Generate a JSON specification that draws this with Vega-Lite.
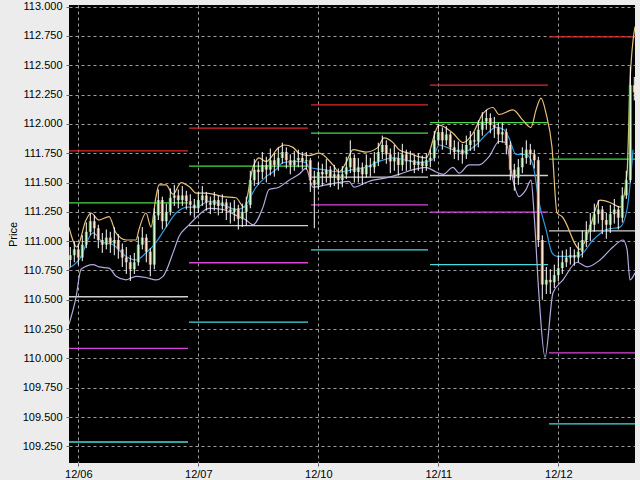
{
  "$schema": "https://vega.github.io/schema/vega-lite/v6.json",
  "width": 566,
  "height": 458,
  "autosize": {"type": "none"},
  "padding": {"left": 69, "top": 5, "right": 5, "bottom": 17},
  "background": "#ececec",
  "config": {
    "view": {"fill": "#000000", "stroke": null},
    "font": "Liberation Sans",
    "axis": {"labelFont": "Liberation Sans", "labelFontSize": 11, "labelColor": "#000000", "labelOverlap": false, "titleFont": "Liberation Sans", "titleFontSize": 11, "titleFontWeight": "normal", "titleColor": "#000000", "gridColor": "#bbbbbb", "gridDash": [3, 3], "gridWidth": 1, "gridOpacity": 0.85, "domain": false, "tickColor": "#666666", "tickSize": 3}
  },
  "encoding": {
    "x": {"field": "i", "type": "quantitative", "title": null, "scale": {"domain": [-2.325, 139.175], "nice": false, "zero": false},
          "axis": {"values": [0, 30, 60, 90, 120], "labelExpr": "datum.value == 0 ? '12/06' : datum.value == 30 ? '12/07' : datum.value == 60 ? '12/10' : datum.value == 90 ? '12/11' : '12/12'", "labelPadding": 2, "tickSize": 3, "labelFlush": false, "labelOverlap": false}},
    "y": {"field": "v", "type": "quantitative", "title": "Price", "scale": {"domain": [109.108, 113.014], "nice": false, "zero": false},
          "axis": {"values": [109.25, 109.5, 109.75, 110, 110.25, 110.5, 110.75, 111, 111.25, 111.5, 111.75, 112, 112.25, 112.5, 112.75, 113], "format": ".3f", "labelPadding": 4, "tickSize": 3, "titlePadding": 4, "labelFlush": false, "labelOverlap": false, "labelBound": false}}
  },
  "datasets": {
    "bars": [
      {"i":-2,"v":110.84,"h":110.95,"l":110.78,"c":110.88},
      {"i":-1,"v":110.88,"h":111.00,"l":110.82,"c":110.93},
      {"i":0,"v":110.93,"h":110.98,"l":110.80,"c":110.86},
      {"i":1,"v":110.86,"h":111.05,"l":110.83,"c":110.97},
      {"i":2,"v":110.97,"h":111.16,"l":110.94,"c":111.08},
      {"i":3,"v":111.08,"h":111.24,"l":111.05,"c":111.17},
      {"i":4,"v":111.17,"h":111.22,"l":111.02,"c":111.11},
      {"i":5,"v":111.11,"h":111.14,"l":110.94,"c":111.01},
      {"i":6,"v":111.01,"h":111.07,"l":110.90,"c":110.97},
      {"i":7,"v":110.97,"h":111.10,"l":110.93,"c":111.03},
      {"i":8,"v":111.03,"h":111.08,"l":110.90,"c":110.98},
      {"i":9,"v":110.98,"h":111.12,"l":110.88,"c":111.01},
      {"i":10,"v":111.01,"h":111.06,"l":110.85,"c":110.93},
      {"i":11,"v":110.93,"h":110.98,"l":110.78,"c":110.86},
      {"i":12,"v":110.86,"h":110.95,"l":110.72,"c":110.82},
      {"i":13,"v":110.82,"h":110.88,"l":110.66,"c":110.76},
      {"i":14,"v":110.76,"h":110.90,"l":110.72,"c":110.82},
      {"i":15,"v":110.82,"h":111.04,"l":110.79,"c":110.97},
      {"i":16,"v":110.97,"h":111.12,"l":110.93,"c":111.03},
      {"i":17,"v":111.03,"h":111.06,"l":110.82,"c":110.91},
      {"i":18,"v":110.91,"h":110.94,"l":110.70,"c":110.80},
      {"i":19,"v":110.80,"h":111.28,"l":110.76,"c":111.22},
      {"i":20,"v":111.22,"h":111.44,"l":111.18,"c":111.35},
      {"i":21,"v":111.35,"h":111.38,"l":111.10,"c":111.17},
      {"i":22,"v":111.17,"h":111.32,"l":111.12,"c":111.25},
      {"i":23,"v":111.25,"h":111.45,"l":111.22,"c":111.37},
      {"i":24,"v":111.37,"h":111.48,"l":111.30,"c":111.39},
      {"i":25,"v":111.39,"h":111.44,"l":111.28,"c":111.35},
      {"i":26,"v":111.35,"h":111.47,"l":111.30,"c":111.39},
      {"i":27,"v":111.39,"h":111.43,"l":111.27,"c":111.34},
      {"i":28,"v":111.34,"h":111.40,"l":111.22,"c":111.31},
      {"i":29,"v":111.31,"h":111.36,"l":111.20,"c":111.28},
      {"i":30,"v":111.28,"h":111.42,"l":111.24,"c":111.35},
      {"i":31,"v":111.35,"h":111.47,"l":111.30,"c":111.39},
      {"i":32,"v":111.39,"h":111.42,"l":111.26,"c":111.33},
      {"i":33,"v":111.33,"h":111.38,"l":111.23,"c":111.31},
      {"i":34,"v":111.31,"h":111.42,"l":111.26,"c":111.35},
      {"i":35,"v":111.35,"h":111.39,"l":111.22,"c":111.30},
      {"i":36,"v":111.30,"h":111.40,"l":111.24,"c":111.33},
      {"i":37,"v":111.33,"h":111.36,"l":111.18,"c":111.27},
      {"i":38,"v":111.27,"h":111.33,"l":111.15,"c":111.25},
      {"i":39,"v":111.25,"h":111.35,"l":111.17,"c":111.28},
      {"i":40,"v":111.28,"h":111.31,"l":111.10,"c":111.19},
      {"i":41,"v":111.19,"h":111.32,"l":111.12,"c":111.25},
      {"i":42,"v":111.25,"h":111.38,"l":111.13,"c":111.31},
      {"i":43,"v":111.31,"h":111.60,"l":111.28,"c":111.52},
      {"i":44,"v":111.52,"h":111.70,"l":111.47,"c":111.61},
      {"i":45,"v":111.61,"h":111.68,"l":111.48,"c":111.59},
      {"i":46,"v":111.59,"h":111.76,"l":111.53,"c":111.65},
      {"i":47,"v":111.65,"h":111.72,"l":111.50,"c":111.61},
      {"i":48,"v":111.61,"h":111.79,"l":111.56,"c":111.69},
      {"i":49,"v":111.69,"h":111.75,"l":111.55,"c":111.65},
      {"i":50,"v":111.65,"h":111.80,"l":111.60,"c":111.71},
      {"i":51,"v":111.71,"h":111.84,"l":111.66,"c":111.76},
      {"i":52,"v":111.76,"h":111.80,"l":111.62,"c":111.69},
      {"i":53,"v":111.69,"h":111.74,"l":111.57,"c":111.65},
      {"i":54,"v":111.65,"h":111.77,"l":111.60,"c":111.69},
      {"i":55,"v":111.69,"h":111.78,"l":111.63,"c":111.71},
      {"i":56,"v":111.71,"h":111.76,"l":111.61,"c":111.68},
      {"i":57,"v":111.68,"h":111.76,"l":111.61,"c":111.69},
      {"i":58,"v":111.69,"h":111.71,"l":111.42,"c":111.52},
      {"i":59,"v":111.52,"h":111.60,"l":111.11,"c":111.48},
      {"i":60,"v":111.48,"h":111.67,"l":111.44,"c":111.59},
      {"i":61,"v":111.59,"h":111.66,"l":111.47,"c":111.57},
      {"i":62,"v":111.57,"h":111.70,"l":111.50,"c":111.61},
      {"i":63,"v":111.61,"h":111.64,"l":111.46,"c":111.54},
      {"i":64,"v":111.54,"h":111.65,"l":111.47,"c":111.57},
      {"i":65,"v":111.57,"h":111.62,"l":111.44,"c":111.52},
      {"i":66,"v":111.52,"h":111.64,"l":111.46,"c":111.57},
      {"i":67,"v":111.57,"h":111.72,"l":111.53,"c":111.63},
      {"i":68,"v":111.63,"h":111.86,"l":111.58,"c":111.71},
      {"i":69,"v":111.71,"h":111.74,"l":111.50,"c":111.59},
      {"i":70,"v":111.59,"h":111.71,"l":111.50,"c":111.63},
      {"i":71,"v":111.63,"h":111.67,"l":111.48,"c":111.57},
      {"i":72,"v":111.57,"h":111.74,"l":111.54,"c":111.65},
      {"i":73,"v":111.65,"h":111.71,"l":111.55,"c":111.63},
      {"i":74,"v":111.63,"h":111.76,"l":111.58,"c":111.68},
      {"i":75,"v":111.68,"h":111.84,"l":111.64,"c":111.76},
      {"i":76,"v":111.76,"h":111.90,"l":111.70,"c":111.82},
      {"i":77,"v":111.82,"h":111.86,"l":111.66,"c":111.74},
      {"i":78,"v":111.74,"h":111.79,"l":111.58,"c":111.68},
      {"i":79,"v":111.68,"h":111.82,"l":111.60,"c":111.71},
      {"i":80,"v":111.71,"h":111.76,"l":111.56,"c":111.65},
      {"i":81,"v":111.65,"h":111.83,"l":111.60,"c":111.74},
      {"i":82,"v":111.74,"h":111.78,"l":111.60,"c":111.68},
      {"i":83,"v":111.68,"h":111.77,"l":111.61,"c":111.69},
      {"i":84,"v":111.69,"h":111.74,"l":111.58,"c":111.65},
      {"i":85,"v":111.65,"h":111.75,"l":111.60,"c":111.68},
      {"i":86,"v":111.68,"h":111.73,"l":111.58,"c":111.64},
      {"i":87,"v":111.64,"h":111.75,"l":111.60,"c":111.69},
      {"i":88,"v":111.69,"h":111.78,"l":111.63,"c":111.71},
      {"i":89,"v":111.71,"h":111.94,"l":111.68,"c":111.86},
      {"i":90,"v":111.86,"h":112.00,"l":111.82,"c":111.93},
      {"i":91,"v":111.93,"h":111.97,"l":111.78,"c":111.86},
      {"i":92,"v":111.86,"h":111.98,"l":111.82,"c":111.91},
      {"i":93,"v":111.91,"h":111.93,"l":111.74,"c":111.80},
      {"i":94,"v":111.80,"h":111.86,"l":111.70,"c":111.76},
      {"i":95,"v":111.76,"h":111.85,"l":111.69,"c":111.78},
      {"i":96,"v":111.78,"h":111.83,"l":111.66,"c":111.74},
      {"i":97,"v":111.74,"h":111.90,"l":111.70,"c":111.82},
      {"i":98,"v":111.82,"h":111.94,"l":111.77,"c":111.86},
      {"i":99,"v":111.86,"h":111.93,"l":111.77,"c":111.85},
      {"i":100,"v":111.85,"h":112.03,"l":111.80,"c":111.95},
      {"i":101,"v":111.95,"h":112.10,"l":111.90,"c":112.02},
      {"i":102,"v":112.02,"h":112.12,"l":111.95,"c":112.05},
      {"i":103,"v":112.05,"h":112.09,"l":111.92,"c":111.99},
      {"i":104,"v":111.99,"h":112.06,"l":111.88,"c":111.97},
      {"i":105,"v":111.97,"h":112.01,"l":111.83,"c":111.91},
      {"i":106,"v":111.91,"h":112.01,"l":111.84,"c":111.93},
      {"i":107,"v":111.93,"h":111.96,"l":111.74,"c":111.82},
      {"i":108,"v":111.82,"h":111.85,"l":111.52,"c":111.61},
      {"i":109,"v":111.61,"h":111.66,"l":111.43,"c":111.54},
      {"i":110,"v":111.54,"h":111.70,"l":111.48,"c":111.63},
      {"i":111,"v":111.63,"h":111.80,"l":111.58,"c":111.71},
      {"i":112,"v":111.71,"h":111.86,"l":111.66,"c":111.78},
      {"i":113,"v":111.78,"h":111.83,"l":111.65,"c":111.74},
      {"i":114,"v":111.74,"h":111.78,"l":111.62,"c":111.69},
      {"i":115,"v":111.69,"h":111.72,"l":110.95,"c":111.01},
      {"i":116,"v":111.01,"h":111.05,"l":110.50,"c":110.63},
      {"i":117,"v":110.63,"h":110.78,"l":110.55,"c":110.67},
      {"i":118,"v":110.67,"h":110.76,"l":110.55,"c":110.65},
      {"i":119,"v":110.65,"h":110.80,"l":110.60,"c":110.71},
      {"i":120,"v":110.71,"h":110.88,"l":110.66,"c":110.77},
      {"i":121,"v":110.77,"h":110.92,"l":110.72,"c":110.82},
      {"i":122,"v":110.82,"h":110.93,"l":110.78,"c":110.86},
      {"i":123,"v":110.86,"h":110.95,"l":110.80,"c":110.88},
      {"i":124,"v":110.88,"h":110.93,"l":110.79,"c":110.86},
      {"i":125,"v":110.86,"h":110.99,"l":110.82,"c":110.91},
      {"i":126,"v":110.91,"h":111.09,"l":110.86,"c":111.01},
      {"i":127,"v":111.01,"h":111.17,"l":110.95,"c":111.08},
      {"i":128,"v":111.08,"h":111.24,"l":111.00,"c":111.14},
      {"i":129,"v":111.14,"h":111.32,"l":111.08,"c":111.23},
      {"i":130,"v":111.23,"h":111.35,"l":111.15,"c":111.27},
      {"i":131,"v":111.27,"h":111.30,"l":111.06,"c":111.18},
      {"i":132,"v":111.18,"h":111.24,"l":111.02,"c":111.14},
      {"i":133,"v":111.14,"h":111.31,"l":111.07,"c":111.23},
      {"i":134,"v":111.23,"h":111.36,"l":111.15,"c":111.27},
      {"i":135,"v":111.27,"h":111.30,"l":111.10,"c":111.20},
      {"i":136,"v":111.20,"h":111.46,"l":111.16,"c":111.39},
      {"i":137,"v":111.39,"h":111.60,"l":111.36,"c":111.52},
      {"i":138,"v":111.52,"h":112.49,"l":111.50,"c":112.33},
      {"i":139,"v":112.33,"h":112.40,"l":112.20,"c":112.27}
    ],
    "lines": [
      {"s":"upper","i":-2.33,"v":111.12},{"s":"upper","i":-0.33,"v":110.95},{"s":"upper","i":1.93,"v":111.18},{"s":"upper","i":3.18,"v":111.24},{"s":"upper","i":5.18,"v":111.18},{"s":"upper","i":7.68,"v":111.21},{"s":"upper","i":9.43,"v":111.07},{"s":"upper","i":11.93,"v":111.01},{"s":"upper","i":14.43,"v":111.01},{"s":"upper","i":15.18,"v":111.10},{"s":"upper","i":16.93,"v":111.24},{"s":"upper","i":18.18,"v":111.12},{"s":"upper","i":19.43,"v":111.38},{"s":"upper","i":20.18,"v":111.48},{"s":"upper","i":21.93,"v":111.48},{"s":"upper","i":23.68,"v":111.40},{"s":"upper","i":25.68,"v":111.50},{"s":"upper","i":27.93,"v":111.46},{"s":"upper","i":29.43,"v":111.41},{"s":"upper","i":31.93,"v":111.41},{"s":"upper","i":36.18,"v":111.38},{"s":"upper","i":39.43,"v":111.37},{"s":"upper","i":41.43,"v":111.29},{"s":"upper","i":43.68,"v":111.63},{"s":"upper","i":45.18,"v":111.71},{"s":"upper","i":46.93,"v":111.68},{"s":"upper","i":50.18,"v":111.80},{"s":"upper","i":51.43,"v":111.82},{"s":"upper","i":53.68,"v":111.80},{"s":"upper","i":55.18,"v":111.75},{"s":"upper","i":57.68,"v":111.73},{"s":"upper","i":60.18,"v":111.75},{"s":"upper","i":63.68,"v":111.65},{"s":"upper","i":65.18,"v":111.59},{"s":"upper","i":66.93,"v":111.67},{"s":"upper","i":68.68,"v":111.78},{"s":"upper","i":71.93,"v":111.76},{"s":"upper","i":74.93,"v":111.80},{"s":"upper","i":76.43,"v":111.88},{"s":"upper","i":78.68,"v":111.84},{"s":"upper","i":80.18,"v":111.78},{"s":"upper","i":82.68,"v":111.75},{"s":"upper","i":85.18,"v":111.72},{"s":"upper","i":86.93,"v":111.71},{"s":"upper","i":90.18,"v":111.99},{"s":"upper","i":93.68,"v":111.92},{"s":"upper","i":96.18,"v":111.84},{"s":"upper","i":98.68,"v":111.92},{"s":"upper","i":101.18,"v":112.09},{"s":"upper","i":103.68,"v":112.14},{"s":"upper","i":105.18,"v":112.08},{"s":"upper","i":108.68,"v":112.12},{"s":"upper","i":111.18,"v":112.03},{"s":"upper","i":113.18,"v":111.97},{"s":"upper","i":114.43,"v":112.12},{"s":"upper","i":115.68,"v":112.22},{"s":"upper","i":116.93,"v":112.09},{"s":"upper","i":118.43,"v":111.80},{"s":"upper","i":119.68,"v":111.24},{"s":"upper","i":120.93,"v":111.21},{"s":"upper","i":125.43,"v":110.93},{"s":"upper","i":127.93,"v":111.12},{"s":"upper","i":130.43,"v":111.35},{"s":"upper","i":132.93,"v":111.33},{"s":"upper","i":135.43,"v":111.29},{"s":"upper","i":137.18,"v":111.58},{"s":"upper","i":137.93,"v":112.35},{"s":"upper","i":139.18,"v":112.83},
      {"s":"ma","i":-2.33,"v":110.77},{"s":"ma","i":0.18,"v":110.84},{"s":"ma","i":3.68,"v":111.07},{"s":"ma","i":6.18,"v":110.99},{"s":"ma","i":8.68,"v":110.97},{"s":"ma","i":11.93,"v":110.87},{"s":"ma","i":14.43,"v":110.84},{"s":"ma","i":16.93,"v":110.90},{"s":"ma","i":19.43,"v":110.99},{"s":"ma","i":21.93,"v":111.12},{"s":"ma","i":24.43,"v":111.24},{"s":"ma","i":27.43,"v":111.29},{"s":"ma","i":29.43,"v":111.29},{"s":"ma","i":32.68,"v":111.34},{"s":"ma","i":36.18,"v":111.31},{"s":"ma","i":39.43,"v":111.27},{"s":"ma","i":41.43,"v":111.29},{"s":"ma","i":44.43,"v":111.46},{"s":"ma","i":46.93,"v":111.55},{"s":"ma","i":49.43,"v":111.61},{"s":"ma","i":51.18,"v":111.67},{"s":"ma","i":54.43,"v":111.68},{"s":"ma","i":56.93,"v":111.67},{"s":"ma","i":57.68,"v":111.63},{"s":"ma","i":61.18,"v":111.61},{"s":"ma","i":65.18,"v":111.59},{"s":"ma","i":68.68,"v":111.61},{"s":"ma","i":71.93,"v":111.63},{"s":"ma","i":75.18,"v":111.68},{"s":"ma","i":78.68,"v":111.71},{"s":"ma","i":81.93,"v":111.69},{"s":"ma","i":85.18,"v":111.67},{"s":"ma","i":88.43,"v":111.69},{"s":"ma","i":90.18,"v":111.82},{"s":"ma","i":93.68,"v":111.78},{"s":"ma","i":96.18,"v":111.76},{"s":"ma","i":99.43,"v":111.82},{"s":"ma","i":101.93,"v":111.91},{"s":"ma","i":104.43,"v":111.97},{"s":"ma","i":106.43,"v":111.95},{"s":"ma","i":107.68,"v":111.88},{"s":"ma","i":109.43,"v":111.74},{"s":"ma","i":111.93,"v":111.74},{"s":"ma","i":113.68,"v":111.65},{"s":"ma","i":115.18,"v":111.33},{"s":"ma","i":116.93,"v":111.10},{"s":"ma","i":118.43,"v":110.90},{"s":"ma","i":119.68,"v":110.87},{"s":"ma","i":122.93,"v":110.87},{"s":"ma","i":125.43,"v":110.88},{"s":"ma","i":128.68,"v":111.01},{"s":"ma","i":132.18,"v":111.10},{"s":"ma","i":135.43,"v":111.12},{"s":"ma","i":137.18,"v":111.27},{"s":"ma","i":138.68,"v":111.78},
      {"s":"lower","i":-2.33,"v":110.29},{"s":"lower","i":-0.58,"v":110.52},{"s":"lower","i":0.68,"v":110.76},{"s":"lower","i":3.68,"v":110.80},{"s":"lower","i":5.18,"v":110.78},{"s":"lower","i":7.68,"v":110.77},{"s":"lower","i":9.43,"v":110.70},{"s":"lower","i":11.93,"v":110.67},{"s":"lower","i":14.43,"v":110.70},{"s":"lower","i":16.93,"v":110.69},{"s":"lower","i":19.43,"v":110.67},{"s":"lower","i":21.18,"v":110.70},{"s":"lower","i":23.68,"v":110.90},{"s":"lower","i":25.18,"v":111.04},{"s":"lower","i":27.43,"v":111.13},{"s":"lower","i":29.43,"v":111.20},{"s":"lower","i":32.68,"v":111.28},{"s":"lower","i":36.18,"v":111.27},{"s":"lower","i":39.43,"v":111.22},{"s":"lower","i":41.93,"v":111.18},{"s":"lower","i":43.68,"v":111.14},{"s":"lower","i":46.18,"v":111.29},{"s":"lower","i":47.68,"v":111.44},{"s":"lower","i":50.18,"v":111.46},{"s":"lower","i":52.68,"v":111.52},{"s":"lower","i":55.18,"v":111.57},{"s":"lower","i":56.93,"v":111.62},{"s":"lower","i":58.68,"v":111.46},{"s":"lower","i":61.93,"v":111.48},{"s":"lower","i":65.18,"v":111.50},{"s":"lower","i":67.68,"v":111.51},{"s":"lower","i":68.93,"v":111.46},{"s":"lower","i":71.93,"v":111.50},{"s":"lower","i":73.68,"v":111.52},{"s":"lower","i":76.93,"v":111.54},{"s":"lower","i":80.18,"v":111.57},{"s":"lower","i":83.68,"v":111.61},{"s":"lower","i":86.93,"v":111.63},{"s":"lower","i":89.43,"v":111.59},{"s":"lower","i":91.18,"v":111.57},{"s":"lower","i":93.68,"v":111.63},{"s":"lower","i":95.18,"v":111.58},{"s":"lower","i":97.68,"v":111.65},{"s":"lower","i":100.18,"v":111.65},{"s":"lower","i":102.68,"v":111.72},{"s":"lower","i":105.18,"v":111.85},{"s":"lower","i":106.93,"v":111.84},{"s":"lower","i":108.68,"v":111.52},{"s":"lower","i":110.18,"v":111.38},{"s":"lower","i":111.93,"v":111.44},{"s":"lower","i":113.18,"v":111.52},{"s":"lower","i":113.93,"v":111.24},{"s":"lower","i":115.18,"v":110.53},{"s":"lower","i":116.68,"v":110.01},{"s":"lower","i":118.68,"v":110.56},{"s":"lower","i":121.18,"v":110.67},{"s":"lower","i":124.68,"v":110.82},{"s":"lower","i":127.18,"v":110.78},{"s":"lower","i":130.43,"v":110.84},{"s":"lower","i":133.68,"v":110.95},{"s":"lower","i":136.18,"v":111.01},{"s":"lower","i":137.18,"v":110.93},{"s":"lower","i":137.93,"v":110.67},{"s":"lower","i":139.18,"v":110.73}
    ],
    "pivots": [
      {"s":"R2","i":-2.33,"b":27.43,"v":111.77},{"s":"R1","i":-2.33,"b":27.43,"v":111.327},{"s":"P","i":-2.33,"b":27.43,"v":110.526},{"s":"S1","i":-2.33,"b":27.43,"v":110.085},{"s":"S2","i":-2.33,"b":27.43,"v":109.287},
      {"s":"R2","i":27.68,"b":57.43,"v":111.964},{"s":"R1","i":27.68,"b":57.43,"v":111.64},{"s":"P","i":27.68,"b":57.43,"v":111.133},{"s":"S1","i":27.68,"b":57.43,"v":110.816},{"s":"S2","i":27.68,"b":57.43,"v":110.31},
      {"s":"R2","i":58.18,"b":87.43,"v":112.162},{"s":"R1","i":58.18,"b":87.43,"v":111.921},{"s":"P","i":58.18,"b":87.43,"v":111.546},{"s":"S1","i":58.18,"b":87.43,"v":111.31},{"s":"S2","i":58.18,"b":87.43,"v":110.926},
      {"s":"R2","i":87.93,"b":117.43,"v":112.33},{"s":"R1","i":87.93,"b":117.43,"v":112.011},{"s":"P","i":87.93,"b":117.43,"v":111.56},{"s":"S1","i":87.93,"b":117.43,"v":111.248},{"s":"S2","i":87.93,"b":117.43,"v":110.799},
      {"s":"R2","i":117.68,"b":139.4,"v":112.742},{"s":"R1","i":117.68,"b":139.4,"v":111.699},{"s":"P","i":117.68,"b":139.4,"v":111.088},{"s":"S1","i":117.68,"b":139.4,"v":110.048},{"s":"S2","i":117.68,"b":139.4,"v":109.441}
    ]
  },
  "layer": [
    {
      "data": {"name": "pivots"},
      "mark": {"type": "rule", "strokeWidth": 1.3, "clip": true},
      "encoding": {
        "x2": {"field": "b"},
        "color": {"field": "s", "type": "nominal", "legend": null,
                  "scale": {"domain": ["R2", "R1", "P", "S1", "S2", "upper", "ma", "lower"], "range": ["#e02828", "#44dd44", "#d0d0d0", "#dd44dd", "#44dddd", "#e8c07a", "#2f9be0", "#b8a8e0"]}}
      }
    },
    {
      "data": {"name": "lines"},
      "mark": {"type": "line", "strokeWidth": 1.2, "interpolate": "monotone", "clip": true},
      "encoding": {
        "color": {"field": "s", "type": "nominal", "legend": null}
      }
    },
    {
      "data": {"name": "bars"},
      "mark": {"type": "rule", "strokeWidth": 3, "clip": true},
      "encoding": {
        "y2": {"field": "c"},
        "color": {"condition": {"test": "datum.c >= datum.v", "value": "#33dd33"}, "value": "#f08840"}
      }
    },
    {
      "data": {"name": "bars"},
      "mark": {"type": "rule", "strokeWidth": 1, "color": "#ffffff", "clip": true},
      "encoding": {
        "y": {"field": "l", "type": "quantitative", "title": "Price",
              "axis": {"values": [109.25, 109.5, 109.75, 110, 110.25, 110.5, 110.75, 111, 111.25, 111.5, 111.75, 112, 112.25, 112.5, 112.75, 113], "format": ".3f", "labelPadding": 4, "tickSize": 3, "titlePadding": 4, "labelFlush": false, "labelOverlap": false, "labelBound": false}},
        "y2": {"field": "h"}
      }
    }
  ]
}
